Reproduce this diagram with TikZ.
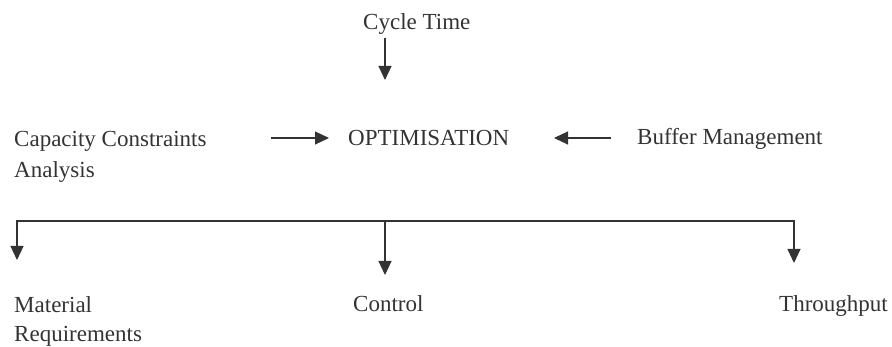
\documentclass[tikz,border=0pt]{standalone}
\usepackage{fontspec}
\setmainfont{Liberation Serif}
\usetikzlibrary{arrows.meta}
\begin{document}
\begin{tikzpicture}
    [
        x=1pt, y=-1pt,
        lbl/.style={anchor=base west, inner sep=0pt, text=black!80, font=\fontsize{23}{31}\selectfont},
        arr/.style={draw=black!80, line width=1.1pt, -{Triangle[width=13pt,length=14pt]}},
        bus/.style={draw=black!60, line width=1.3pt},
    ]
\useasboundingbox (0,0) rectangle (892,347);

% inputs
\node[lbl] (cycle) at (363,30) {Cycle Time};
\node[lbl] (opt) at (348,146) {OPTIMISATION};
\node[lbl, align=left] (capacity) at (14,178) {Capacity Constraints\\Analysis};
\node[lbl] (buffer) at (637,145) {Buffer Management};

% outputs
\node[lbl, align=left, font=\fontsize{23}{29}\selectfont] (material) at (14,342) {Material\\Requirements};
\node[lbl] (control) at (353,312) {Control};
\node[lbl] (thruput) at (779,312) {Throughput};

\coordinate (ctFrom) at (385,38);
\coordinate (ctTo) at (385,80);
\coordinate (capFrom) at (271,138);
\coordinate (capTo) at (329,138);
\coordinate (bufFrom) at (611,138);
\coordinate (bufTo) at (554,138);
\coordinate (hub) at (385,221);

\draw[arr] (ctFrom) -- (ctTo);
\draw[arr] (capFrom) -- (capTo);
\draw[arr] (bufFrom) -- (bufTo);

\foreach \n/\x/\y in {mat/17/260, ctl/385/275, thr/794/263}
    \coordinate (tip\n) at (\x,\y);
\draw[bus] (tipmat |- hub) -- (tipthr |- hub);
\foreach \n in {mat,ctl,thr}
    \draw[arr] (hub) -| (tip\n);
\end{tikzpicture}
\end{document}
